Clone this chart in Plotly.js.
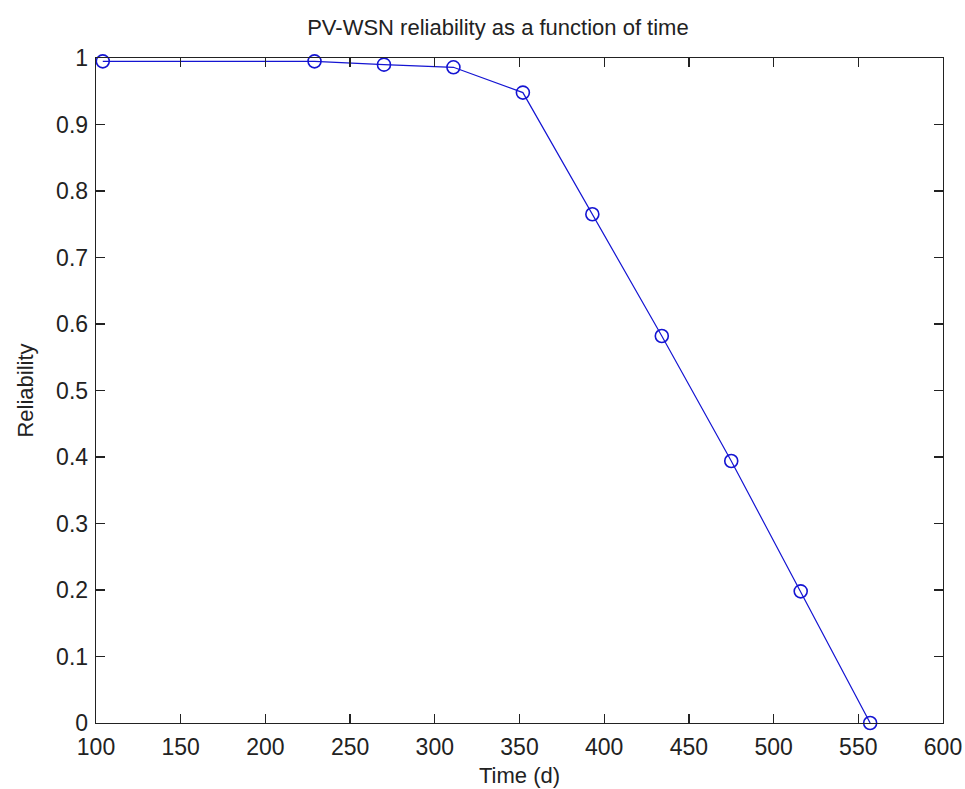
<!DOCTYPE html>
<html>
<head>
<meta charset="utf-8">
<script src="https://cdn.plot.ly/plotly-3.0.1.min.js"></script>
<style>html,body{margin:0;padding:0;background:#fff;}#chart{width:965px;height:789px;}</style>
</head>
<body>
<div id="chart"></div>
<script>
const timeDays = [104, 229, 270, 311, 352, 393, 434, 475, 516, 557];
const reliability = [0.995, 0.995, 0.990, 0.986, 0.948, 0.765, 0.582, 0.394, 0.198, 0.0];
const xTicks = [100, 150, 200, 250, 300, 350, 400, 450, 500, 550, 600];
const yTicks = [0, 0.1, 0.2, 0.3, 0.4, 0.5, 0.6, 0.7, 0.8, 0.9, 1];
const yTickLabels = ["0", "0.1", "0.2", "0.3", "0.4", "0.5", "0.6", "0.7", "0.8", "0.9", "1"];

const font = "Liberation Sans, Arial, sans-serif";
const trace = {
  x: timeDays,
  y: reliability,
  type: "scatter",
  mode: "lines+markers",
  line: {color: "#1414d2", width: 1.2},
  marker: {symbol: "circle-open", size: 13, color: "#1414d2", line: {width: 1.6, color: "#1414d2"}},
  cliponaxis: false,
  showlegend: false
};
const axisCommon = {
  showline: true, linecolor: "#222", linewidth: 1.3, mirror: "ticks",
  ticks: "inside", ticklen: 9, tickwidth: 1.3, tickcolor: "#222",
  showgrid: false, zeroline: false,
  tickfont: {family: font, size: 23, color: "#222"}
};
const layout = {
  width: 965, height: 789,
  margin: {l: 96, r: 22, t: 58, b: 66},
  paper_bgcolor: "#fff", plot_bgcolor: "#fff",
  title: {text: "PV-WSN reliability as a function of time", font: {family: font, size: 22, color: "#222"},
          xref: "container", x: 0.516, xanchor: "center", yref: "container", y: 0.965, yanchor: "middle"},
  xaxis: Object.assign({}, axisCommon, {
    range: [100, 600], tickvals: xTicks, ticktext: xTicks.map(String), ticklabelstandoff: 3,
    title: {text: "Time (d)", font: {family: font, size: 22, color: "#222"}, standoff: 8}
  }),
  yaxis: Object.assign({}, axisCommon, {
    range: [0, 1], tickvals: yTicks, ticktext: yTickLabels, ticklabelstandoff: 2,
    title: {text: "Reliability", font: {family: font, size: 22, color: "#222"}, standoff: 16}
  })
};
Plotly.newPlot("chart", [trace], layout, {displayModeBar: false, staticPlot: true});
</script>
</body>
</html>
